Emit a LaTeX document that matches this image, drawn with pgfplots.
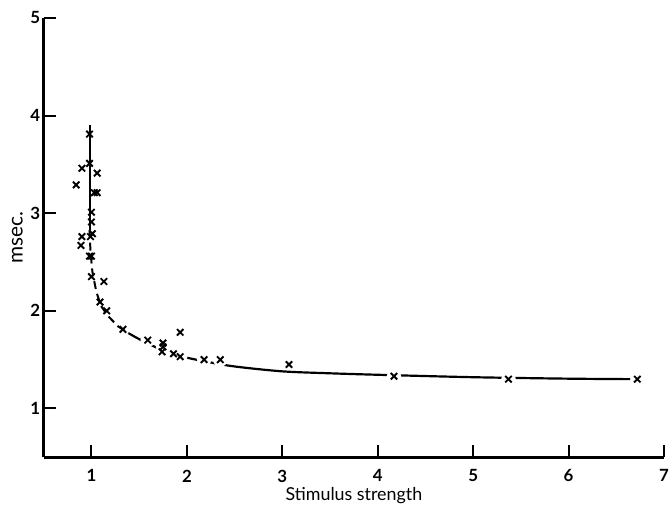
\documentclass[border=0pt]{standalone}
\usepackage{fontspec}
\setmainfont{Lato}
\usepackage{pgfplots}
\pgfplotsset{compat=1.18}

\begin{document}
\begin{tikzpicture}
\begin{axis}[
    scale only axis, width=624bp, height=442bp,
    xmin=0.5, xmax=7, ymin=0.5, ymax=5,
    axis lines*=left, axis line style={line width=2.8bp},
    xtick={1,...,7}, ytick={1,...,5},
    tick align=inside, major tick length=12bp,
    tick style={line width=2bp, black},
    ticklabel style={font=\fontsize{17}{20}\selectfont\bfseries},
    xticklabel style={yshift=-9bp},
    /pgf/number format/assume math mode=true,
    xlabel={Stimulus strength}, ylabel={msec.},
    xlabel style={font=\fontsize{18}{21}\selectfont, yshift=2bp},
    ylabel style={font=\fontsize{21}{24}\selectfont, yshift=1bp},
    clip=false,
  ]
  % fitted curve: solid top, dashed knee, solid tail
  \addplot[line width=2bp] coordinates {(0.98,3.90) (0.98,2.83)};
  \addplot[line width=2bp, dash pattern=on 8bp off 5bp] coordinates {
    (0.98,2.83) (0.99,2.60) (1.01,2.40) (1.05,2.20) (1.10,2.05)
    (1.18,1.94) (1.28,1.84) (1.39,1.77)};
  \addplot[line width=2.2bp, smooth] coordinates {
    (1.39,1.77) (1.50,1.71) (1.69,1.62) (1.85,1.56) (2.00,1.52)
    (2.20,1.48) (2.50,1.43) (3.00,1.38) (3.50,1.36) (4.00,1.345)
    (5.00,1.32) (6.00,1.305) (6.70,1.30)};
  % white backing so the line breaks around the crosses
  \addplot[only marks, mark=*, mark size=7bp, white, draw=none] coordinates {
    (1.59,1.70) (1.75,1.63) (1.86,1.56) (1.93,1.53) (2.18,1.50)
    (2.35,1.50) (4.17,1.33) (5.37,1.30) (6.72,1.30)};
  % measurements
  \addplot[only marks, mark=x, mark size=4.6bp, line width=1.9bp] coordinates {
    (0.98,3.81) (0.98,3.51) (0.90,3.46) (1.06,3.41) (0.84,3.29)
    (1.03,3.21) (1.06,3.21) (1.00,3.01) (1.00,2.91) (1.01,2.79)
    (0.99,2.76) (0.90,2.76) (0.89,2.67) (0.98,2.56) (1.00,2.56)
    (1.00,2.35) (1.13,2.30) (1.09,2.09) (1.16,2.00) (1.33,1.81)
    (1.93,1.78) (1.59,1.70) (1.75,1.67) (1.75,1.63) (1.74,1.58)
    (1.86,1.56) (1.93,1.53) (2.18,1.50) (2.35,1.50) (3.07,1.45)
    (4.17,1.33) (5.37,1.30) (6.72,1.30)};
\end{axis}
% page frame as in the reference
\pgfresetboundingbox
\useasboundingbox ([shift={(-44bp,-49bp)}]current axis.south west)
  rectangle ([shift={(7bp,18bp)}]current axis.north east);
\end{tikzpicture}
\end{document}
